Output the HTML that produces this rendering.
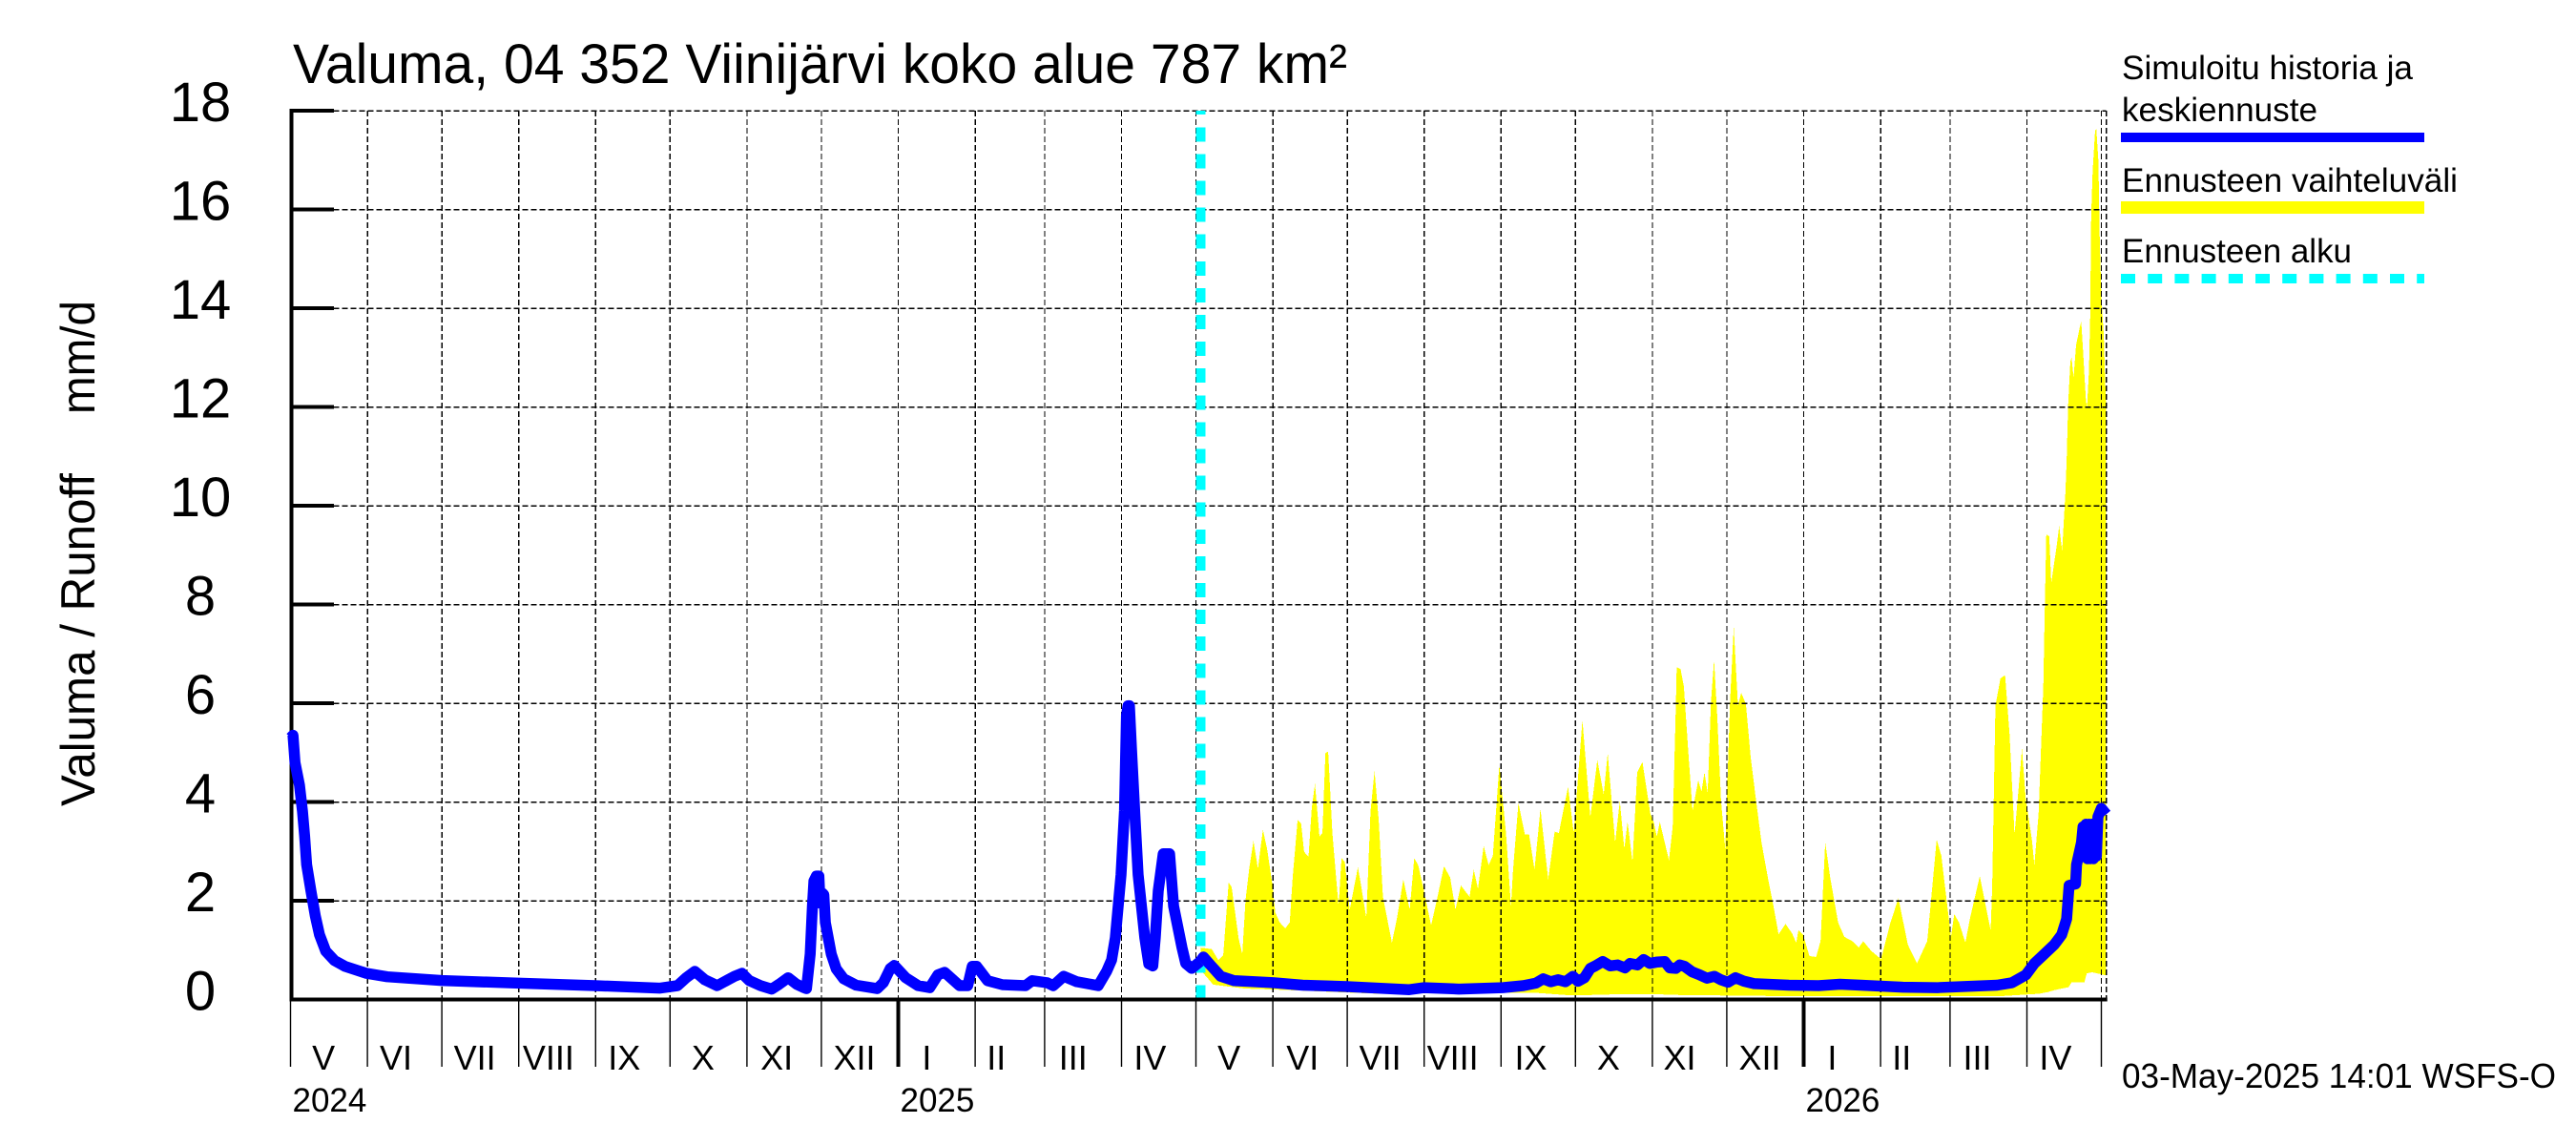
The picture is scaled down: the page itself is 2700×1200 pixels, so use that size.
<!DOCTYPE html>
<html lang="fi">
<head>
<meta charset="utf-8">
<title>Valuma, 04 352 Viinijärvi koko alue 787 km²</title>
<style>
html,body{margin:0;padding:0;background:#fff;}
svg{display:block;}
text{font-family:"Liberation Sans",Arial,sans-serif;fill:#000;}
</style>
</head>
<body>
<svg id="chart" xmlns="http://www.w3.org/2000/svg" width="2700" height="1200" viewBox="0 0 2700 1200">
  <rect x="0" y="0" width="2700" height="1200" fill="#ffffff"/>
  <text x="307" y="87" font-size="58" textLength="1105" lengthAdjust="spacingAndGlyphs">Valuma, 04 352 Viinijärvi koko alue 787 km²</text>
  <text transform="translate(99,845) rotate(-90)" font-size="50" textLength="349" lengthAdjust="spacingAndGlyphs">Valuma / Runoff</text>
  <text transform="translate(99,434) rotate(-90)" font-size="50" textLength="119" lengthAdjust="spacingAndGlyphs">mm/d</text>
  <g id="layer-band"></g>
  <g id="layer-grid"></g>
  <g id="layer-start"></g>
  <g id="layer-axes"></g>
  <g id="layer-line"></g>
  <g>
    <text x="2224" y="83" font-size="35" textLength="305" lengthAdjust="spacingAndGlyphs">Simuloitu historia ja</text>
    <text x="2224" y="127" font-size="35" textLength="205" lengthAdjust="spacingAndGlyphs">keskiennuste</text>
    <rect x="2223" y="139" width="318" height="10" fill="#0000ff"/>
    <text x="2224" y="201" font-size="35" textLength="352" lengthAdjust="spacingAndGlyphs">Ennusteen vaihteluväli</text>
    <rect x="2223" y="211" width="318" height="13" fill="#ffff00"/>
    <text x="2224" y="275" font-size="35" textLength="241" lengthAdjust="spacingAndGlyphs">Ennusteen alku</text>
    <line x1="2223" y1="292" x2="2541" y2="292" stroke="#00ffff" stroke-width="10" stroke-dasharray="15 13.2"/>
  </g>
  <text x="2224" y="1140" font-size="36" textLength="455" lengthAdjust="spacingAndGlyphs">03-May-2025 14:01 WSFS-O</text>
</svg>
<script>
const yTickValues = [0, 2, 4, 6, 8, 10, 12, 14, 16, 18];
const monthLabels = ["V","VI","VII","VIII","IX","X","XI","XII","I","II","III","IV","V","VI","VII","VIII","IX","X","XI","XII","I","II","III","IV"];
const monthStartDays = [0,31,61,92,123,153,184,214,245,276,304,335,365,396,426,457,488,518,549,579,610,641,669,700];
const monthLabelDays = [13.3,42.5,74.3,104,134.5,166.3,196,227.3,256.5,284.5,315.5,346.5,378.3,408,439.3,468.5,500,531.3,560,592.3,621.5,649.5,680,711.5];
const yearLabels = ["2024","2025","2026"];
const yearStartDays = [0,245,610];
const lastMonthEndDay = 730;
const lastDataDay = 732;
const forecastStartDay = 367;

const historyDays = [0,1,1.8,3.6,4.8,5.7,6.5,8.2,10,11.7,14.2,17.7,22,30.6,39,61,92,123,149,156,159.5,163,167,172,176.4,179,182,185,189.5,194,197,200.6,204,207,208,209.5,210.4,211,212,213,213.5,214.5,215,215.6,218,220,223,228,236.5,239,241.8,243.4,248,253,257.7,261,263.7,269.7,273,274.8,276.6,281,287,296.3,299,305,307.5,311.7,317,325.6,329,331,332.5,334.8,336.2,337,337.6,338.2,339,340.3,341.7,344.4,346,347.6,348.6,349.8,351.8,354.4,356,359.4,360.9,363.3,366.7];
const historyValues = [5.3,5.35,4.8,4.34,3.82,3.31,2.73,2.21,1.69,1.31,0.98,0.79,0.67,0.53,0.46,0.385,0.33,0.28,0.23,0.28,0.44,0.57,0.4,0.28,0.4,0.47,0.53,0.38,0.28,0.21,0.31,0.44,0.31,0.24,0.22,0.92,1.88,2.4,2.5,2.5,1.95,2.15,2.12,1.56,0.92,0.62,0.42,0.29,0.22,0.34,0.63,0.69,0.44,0.28,0.24,0.5,0.55,0.28,0.28,0.67,0.67,0.38,0.3,0.28,0.38,0.34,0.28,0.47,0.36,0.28,0.57,0.8,1.25,2.53,3.82,5.75,5.95,5.95,5.1,3.82,2.53,1.25,0.72,0.68,1.25,2.2,2.95,2.95,1.89,1.05,0.73,0.63,0.77];

const meanDays = [366.7,368,371,375,380.4,396,408,426,451,457,471,488.6,497,502,505,508,511,514,517,519,521.6,524,526,529,532,535,538,540,543,545.5,548,551,554,556,558.5,560,562,565,568,571,574,576.6,579.5,582.5,586,590,604,616,624.6,633,650,664,688,694,699.6,703,707,711,714,716,717,719.6,720,722,722.6,723.2,723.8,724.4,725,725.6,726.2,726.8,727.4,728,728.6,730,732];
const meanValues = [0.77,0.86,0.69,0.47,0.38,0.34,0.29,0.26,0.2,0.24,0.21,0.24,0.28,0.33,0.42,0.36,0.4,0.36,0.47,0.37,0.44,0.63,0.68,0.77,0.68,0.7,0.64,0.73,0.7,0.81,0.73,0.76,0.77,0.64,0.63,0.7,0.67,0.56,0.5,0.43,0.47,0.4,0.35,0.44,0.37,0.32,0.29,0.28,0.31,0.29,0.25,0.24,0.29,0.34,0.5,0.73,0.92,1.11,1.31,1.63,2.31,2.34,2.73,3.18,3.5,2.95,3.55,2.85,3.55,2.85,3.55,2.85,3.5,2.9,3.7,3.87,3.75];

const upperDays = [367,371.4,374,376,378.2,379.4,380.8,382.2,383.7,385,386.5,388.2,390,392,393.7,395.8,397,398.8,401,402.8,404,406,407.4,408.6,410.4,411.7,413,414.8,416,417.2,418.3,420,422.5,423.7,425,427,430.3,431.5,433.7,435.4,437,438.7,440.4,444,446,448.6,451.2,453,454.6,457,459.8,462.4,465,467.5,469.6,471.8,475.3,477,478.7,481,483,484.7,487.3,490,492,492.8,495,497.6,499.3,501.5,503.9,507,509.6,511.3,515,517.3,520.8,524,526.8,529.4,531,534,535.9,537.7,539,541,542.9,545,548.2,549.5,550.8,552,555.7,557.2,558.5,558.8,560.4,561.7,563.6,565.2,567.5,568.8,570,571.3,572.6,573.9,575.2,576.7,578.4,580.3,581.8,583.5,584.8,586.7,588.6,590.5,593,595.7,597.6,599.9,602.7,605.3,607,607.9,609.8,612.3,615,616.8,618.7,620.7,623.9,626.4,629.6,632.2,634,637.3,641.2,645,648.2,652,655.7,659.8,663.6,665.5,668.7,669.4,670.7,672.6,675.2,677,681,685.4,686,687.3,689.3,691.2,693,695,696.3,698,699.5,702,703,704.7,706.6,707.2,707.8,709,709.8,710.8,712,713,714.2,715.5,716,716.6,717.5,718,718.8,719.8,721.4,721.9,722.6,723.7,724.2,725,725.5,725.9,726.5,727.5,728,728.8,729.3,730,730.5,731,731.4,732];
const upperValues = [1.05,1.02,0.8,0.89,2.37,2.28,1.76,1.24,0.92,2.02,2.66,3.21,2.65,3.44,3.05,2.33,1.76,1.56,1.44,1.56,2.47,3.64,3.57,2.99,2.89,3.88,4.37,3.3,3.37,4.99,5.02,3.37,1.89,2.86,2.79,1.82,2.68,2.33,1.65,3.82,4.63,3.63,2.08,1.15,1.63,2.43,1.82,2.86,2.72,2.18,1.5,2.08,2.7,2.47,1.82,2.31,2.08,2.63,2.24,3.11,2.72,2.91,4.75,3.37,1.89,2.6,3.98,3.34,3.34,2.63,3.86,2.43,3.4,3.37,4.31,3.37,5.66,3.69,4.85,4.15,4.99,3.18,4.02,3.05,3.6,2.79,4.6,4.81,3.76,3.6,3.3,3.6,2.82,3.5,6.02,6.73,6.69,6.34,4.92,3.82,4.44,4.21,4.6,4.18,6.02,6.88,5.7,4.02,3.05,6.02,7.55,5.95,6.21,5.99,4.92,4.15,3.18,2.43,1.95,1.32,1.53,1.34,1.15,1.4,1.31,0.88,0.86,1.18,3.18,2.47,1.56,1.27,1.18,1.05,1.18,0.98,0.82,1.56,2.05,1.11,0.73,1.18,3.24,2.91,1.56,1.27,1.73,1.56,1.15,1.63,2.5,1.4,2.28,5.95,6.5,6.57,5.37,3.34,4.08,5.08,4.08,3.24,2.72,3.76,6.34,7.89,9.42,9.38,8.43,8.78,9.19,9.59,9.08,10.25,10.89,12.05,12.92,13,12.59,13.25,13.63,13.73,13.15,12.21,11.95,12.73,13.82,15.85,16.79,17.6,17.62,16.98,15.49,14.21,13.82,13.45,12.78,11.89];

const lowerDays = [367,372,385,398,437,501,514,524,530,548,560,600,690,703,705.3,708.5,711,716.8,718,723.2,724.1,726.4,731.6,732];
const lowerValues = [0.59,0.3,0.22,0.2,0.12,0.14,0.09,0.09,0.1,0.11,0.09,0.07,0.07,0.11,0.12,0.15,0.19,0.25,0.35,0.35,0.53,0.55,0.49,0.49];

const SVG_NS = "http://www.w3.org/2000/svg";
const plotLeft = 304.5;
const pxPerDay = 2.6;
const plotBottom = 1047.5;
const pxPerUnit = 51.75;
const plotTop = plotBottom - 18 * pxPerUnit;

function xScale(day) { return plotLeft + pxPerDay * day; }
function yScale(value) { return plotBottom - pxPerUnit * value; }

function make(parent, tag, props, content) {
  const el = document.createElementNS(SVG_NS, tag);
  Object.keys(props).forEach(function (key) { el.setAttribute(key, props[key]); });
  if (content !== undefined) { el.textContent = content; }
  document.getElementById(parent).appendChild(el);
  return el;
}

function pointsFor(days, values) {
  return days.map(function (d, i) { return xScale(d).toFixed(1) + "," + yScale(values[i]).toFixed(1); });
}

/* forecast band */
const bandTop = pointsFor(upperDays, upperValues);
const bandBottom = pointsFor(lowerDays, lowerValues).reverse();
const band = make("layer-band", "polygon", { points: bandTop.concat(bandBottom).join(" "), fill: "#ffff00", stroke: "none", "shape-rendering": "crispEdges" });



/* gridlines */
const gridDash = "6 3";
yTickValues.forEach(function (v) {
  if (v === 0) { return; }
  const g = make("layer-grid", "line", { x1: plotLeft, x2: xScale(lastDataDay), y1: yScale(v), y2: yScale(v), stroke: "#000", "stroke-width": 1.5, "stroke-dasharray": gridDash, "shape-rendering": "crispEdges" });
  
  
});
monthStartDays.concat([lastMonthEndDay, lastDataDay]).forEach(function (d) {
  if (d === 0) { return; }
  const g = make("layer-grid", "line", { x1: xScale(d), x2: xScale(d), y1: plotTop, y2: plotBottom, stroke: "#000", "stroke-width": 1.3, "stroke-dasharray": gridDash, "shape-rendering": "crispEdges" });
  
  
});

/* forecast start marker */
const startLine = make("layer-start", "line", { x1: xScale(forecastStartDay), x2: xScale(forecastStartDay), y1: plotBottom, y2: plotTop, stroke: "#00ffff", "stroke-width": 10, "stroke-dasharray": "15 13.1", "shape-rendering": "crispEdges" });



/* axes */
const yAxisLine = make("layer-axes", "line", { x1: plotLeft + 1, x2: plotLeft + 1, y1: plotTop - 2, y2: plotBottom + 2, stroke: "#000", "stroke-width": 4 });


const xAxisLine = make("layer-axes", "line", { x1: plotLeft - 1, x2: xScale(lastDataDay) + 1, y1: plotBottom, y2: plotBottom, stroke: "#000", "stroke-width": 4 });



yTickValues.forEach(function (v) {
  const tick = make("layer-axes", "line", { x1: plotLeft, x2: plotLeft + 45.5, y1: yScale(v), y2: yScale(v), stroke: "#000", "stroke-width": 4 });
  
  
  const label = make("layer-axes", "text", { x: 210, y: yScale(v) + 11, "font-size": 58, "text-anchor": "middle" }, String(v));
  
  
});

monthStartDays.concat([lastMonthEndDay]).forEach(function (d) {
  const isYear = yearStartDays.indexOf(d) > 0;
  const tick = make("layer-axes", "line", { x1: xScale(d), x2: xScale(d), y1: plotBottom, y2: 1118, stroke: "#000", "stroke-width": isYear ? 4 : 1.4 });
  
  
});

monthLabels.forEach(function (name, i) {
  const label = make("layer-axes", "text", { x: xScale(monthLabelDays[i]), y: 1121, "font-size": 36, "text-anchor": "middle" }, name);
  
  
});

yearLabels.forEach(function (name, i) {
  const label = make("layer-axes", "text", { x: xScale(yearStartDays[i]) + 2, y: 1165, "font-size": 35 }, name);
  
  
});

/* simulated history and mean forecast */
const lineBase = { fill: "none", stroke: "#0000ff", "stroke-width": 11.5, "stroke-linejoin": "round", "stroke-linecap": "butt" };
const historyLine = make("layer-line", "polyline", Object.assign({ points: pointsFor(historyDays, historyValues).join(" ") }, lineBase));


const meanLine = make("layer-line", "polyline", Object.assign({ points: pointsFor(meanDays, meanValues).join(" ") }, lineBase));


</script>
</body>
</html>
